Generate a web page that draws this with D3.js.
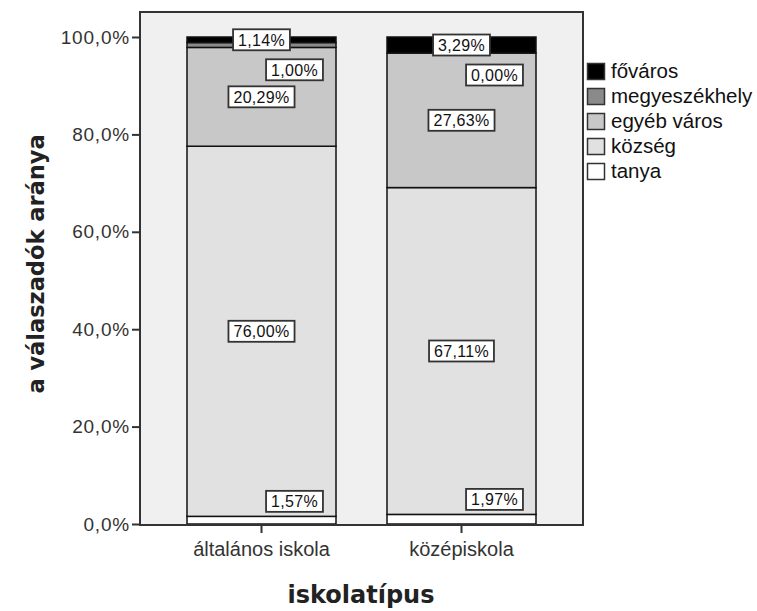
<!DOCTYPE html>
<html>
<head>
<meta charset="utf-8">
<script src="https://cdn.jsdelivr.net/npm/d3@7"></script>
<style>
  html, body { margin: 0; padding: 0; background: #ffffff; }
  svg { display: block; }
</style>
</head>
<body>
<svg id="chart" width="757" height="611"></svg>
<script>
// School types on the x axis
const categories = ["általános iskola", "középiskola"];
// Settlement types, bottom to top of each stack
const seriesNames = ["tanya", "község", "egyéb város", "megyeszékhely", "főváros"];
// Percent of respondents per settlement type, one array per series
const tanya = [1.57, 1.97];
const kozseg = [76.00, 67.11];
const egyebVaros = [20.29, 27.63];
const megyeszekhely = [1.00, 0.00];
const fovaros = [1.14, 3.29];
const yTicks = [0, 20, 40, 60, 80, 100];

const seriesValues = [tanya, kozseg, egyebVaros, megyeszekhely, fovaros];
const fills = ["#ffffff", "#e1e1e1", "#c8c8c8", "#8a8a8a", "#000000"];
const legendOrder = ["főváros", "megyeszékhely", "egyéb város", "község", "tanya"];

const svg = d3.select("#chart");
const frame = { left: 140, top: 12, right: 583, bottom: 525 };
const sans = "Liberation Sans, Arial, sans-serif";

const x = d3.scaleBand()
  .domain(categories)
  .range([frame.left, frame.right])
  .paddingInner(0.255)
  .paddingOuter(0.235);

const y = d3.scaleLinear()
  .domain([0, 100])
  .range([524, 37]);

const fmt = v => v.toFixed(2).replace(".", ",");
const fmtAxis = v => v.toFixed(1).replace(".", ",") + "%";

// plot background
svg.append("rect")
  .attr("x", frame.left).attr("y", frame.top)
  .attr("width", frame.right - frame.left).attr("height", frame.bottom - frame.top)
  .attr("fill", "#f0f0f0");

// stacked data
const table = categories.map((c, i) => {
  const row = { cat: c };
  seriesNames.forEach((s, j) => row[s] = seriesValues[j][i]);
  return row;
});
const stacked = d3.stack().keys(seriesNames)(table);

const gBars = svg.append("g");
stacked.forEach((layer, j) => {
  gBars.selectAll(null)
    .data(layer)
    .join("rect")
    .attr("x", d => x(d.data.cat))
    .attr("width", x.bandwidth())
    .attr("y", d => y(d[1]))
    .attr("height", d => y(d[0]) - y(d[1]))
    .attr("fill", fills[j])
    .attr("stroke", "#111")
    .attr("stroke-width", 1.5);
});

// frame
svg.append("rect")
  .attr("x", frame.left).attr("y", frame.top)
  .attr("width", frame.right - frame.left).attr("height", frame.bottom - frame.top)
  .attr("fill", "none")
  .attr("stroke", "#333")
  .attr("stroke-width", 2);

// y axis
const yAxis = d3.axisLeft(y).tickValues(yTicks).tickFormat(fmtAxis).tickSize(8).tickPadding(2);
const gy = svg.append("g").attr("transform", `translate(${frame.left},0)`).call(yAxis);
gy.select(".domain").remove();
gy.selectAll(".tick line").attr("stroke", "#333").attr("stroke-width", 2);
gy.selectAll(".tick text")
  .attr("font-family", sans)
  .attr("font-size", 19).attr("letter-spacing", 0.8).attr("fill", "#333");

// x axis
const xAxis = d3.axisBottom(x).tickSize(8).tickPadding(9);
const gx = svg.append("g").attr("transform", `translate(0,${frame.bottom})`).call(xAxis);
gx.select(".domain").remove();
gx.selectAll(".tick line").attr("stroke", "#333").attr("stroke-width", 2);
gx.selectAll(".tick text")
  .attr("font-family", sans)
  .attr("font-size", 20).attr("fill", "#333");

// axis titles
svg.append("text")
  .attr("transform", "translate(44,264) rotate(-90)")
  .attr("text-anchor", "middle")
  .attr("font-family", "DejaVu Sans, sans-serif")
  .attr("font-weight", "bold").attr("font-size", 22.5).attr("fill", "#222")
  .text("a válaszadók aránya");

svg.append("text")
  .attr("x", 361).attr("y", 603)
  .attr("text-anchor", "middle")
  .attr("font-family", "DejaVu Sans, sans-serif")
  .attr("font-weight", "bold").attr("font-size", 24).attr("fill", "#222")
  .text("iskolatípus");

// value labels: centred in each segment; thin segments get nudged aside
const labelG = svg.append("g");
const boxH = 21;
stacked.forEach((layer, j) => {
  layer.forEach((d, i) => {
    const val = d[1] - d[0];
    const cx = x(d.data.cat) + x.bandwidth() / 2;
    let lx = cx, ly = y((d[0] + d[1]) / 2);
    const isTop = j === seriesNames.length - 1;
    let leader = false;
    if (!isTop && val < 3) {
      lx = cx + 33;
      if (j === 0) {
        ly = y(d[1]) - 15;                            // bottom band: sit above it
        leader = y(d[1]) - (ly + boxH / 2) < 3;       // short pointer when the box hugs the band
      } else {
        const topSeg = stacked[seriesNames.length - 1][i];
        ly = y((topSeg[0] + topSeg[1]) / 2) + 30;     // stacked under the top label
      }
    }
    const txt = fmt(val) + "%";
    const g = labelG.append("g");
    const t = g.append("text")
      .attr("x", lx).attr("y", ly + 6)
      .attr("text-anchor", "middle")
      .attr("font-family", sans)
      .attr("font-size", 16).attr("letter-spacing", 0.3).attr("fill", "#111")
      .text(txt);
    const w = t.node().getComputedTextLength() + 10;
    g.insert("rect", "text")
      .attr("x", lx - w / 2).attr("y", ly - boxH / 2)
      .attr("width", w).attr("height", boxH)
      .attr("fill", "#ffffff").attr("stroke", "#333").attr("stroke-width", 1.8);
    if (leader) {
      g.append("line")
        .attr("x1", lx - w / 2 + 2).attr("y1", ly + boxH / 2)
        .attr("x2", lx - w / 2 - 4).attr("y2", y(d[1]) + 1)
        .attr("stroke", "#333").attr("stroke-width", 1.2);
    }
  });
});

// legend
const legend = svg.append("g").attr("transform", "translate(587,63)");
legendOrder.forEach((name, k) => {
  const j = seriesNames.indexOf(name);
  const row = legend.append("g").attr("transform", `translate(0,${k * 25})`);
  row.append("rect")
    .attr("x", 0.5).attr("y", 0.5).attr("width", 17).attr("height", 16)
    .attr("fill", fills[j]).attr("stroke", "#333").attr("stroke-width", 1.5);
  row.append("text")
    .attr("x", 24).attr("y", 15)
    .attr("font-family", sans)
    .attr("font-size", 20.5).attr("fill", "#111")
    .text(name);
});
</script>
</body>
</html>
